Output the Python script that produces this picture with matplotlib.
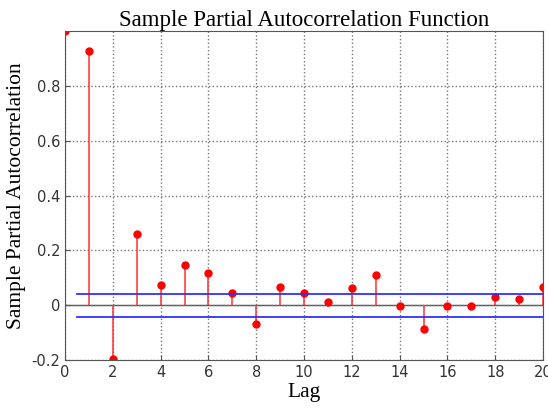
import numpy as np
import matplotlib
matplotlib.use("Agg")
import matplotlib.pyplot as plt

# partial autocorrelation values
lags = np.arange(0, 21)
pacf = [1.0, 0.927, -0.197, 0.258, 0.073, 0.145, 0.116, 0.044, -0.069, 0.066,
        0.044, 0.011, 0.063, 0.109, -0.004, -0.087, -0.004, -0.004, 0.029, 0.022, 0.065]
bound = 0.042
xticks = np.arange(0, 21, 2)
yticks = [-0.2, 0, 0.2, 0.4, 0.6, 0.8]

fig = plt.figure(figsize=(5.48, 4.08), dpi=100)
ax = fig.add_axes([0.1186, 0.1176, 0.8724, 0.8064])

ml, sl, bl = ax.stem(lags, pacf, basefmt=" ")
plt.setp(sl, color="#ff3030", linewidth=1.1)
plt.setp(ml, color="red", markersize=5)
ax.axhline(0, color="#555555", linewidth=1, zorder=1)
ax.plot([0.5, 20], [bound, bound], color="#3030ff", linewidth=1.3)
ax.plot([0.5, 20], [-bound, -bound], color="#3030ff", linewidth=1.3)

ax.set_xlim(0, 20)
ax.set_ylim(-0.2, 1.0)
ax.set_xticks(xticks)
ax.set_yticks(yticks)
ax.set_yticklabels(["-0.2", "0", "0.2", "0.4", "0.6", "0.8"])
ax.grid(True, linestyle=":", color="#777777", linewidth=1)
ax.tick_params(direction="in", labelsize=10.5, labelcolor="#333333", color="#555555")
for s in ax.spines.values():
    s.set_color("#555555")

serif = "Liberation Serif"
ax.set_title("Sample Partial Autocorrelation Function", family=serif, fontsize=16.5, pad=3)
ax.set_xlabel("Lag", family=serif, fontsize=15.5, labelpad=2)
ax.set_ylabel("Sample Partial Autocorrelation", family=serif, fontsize=15.5, labelpad=4)

fig.savefig("out.png")
